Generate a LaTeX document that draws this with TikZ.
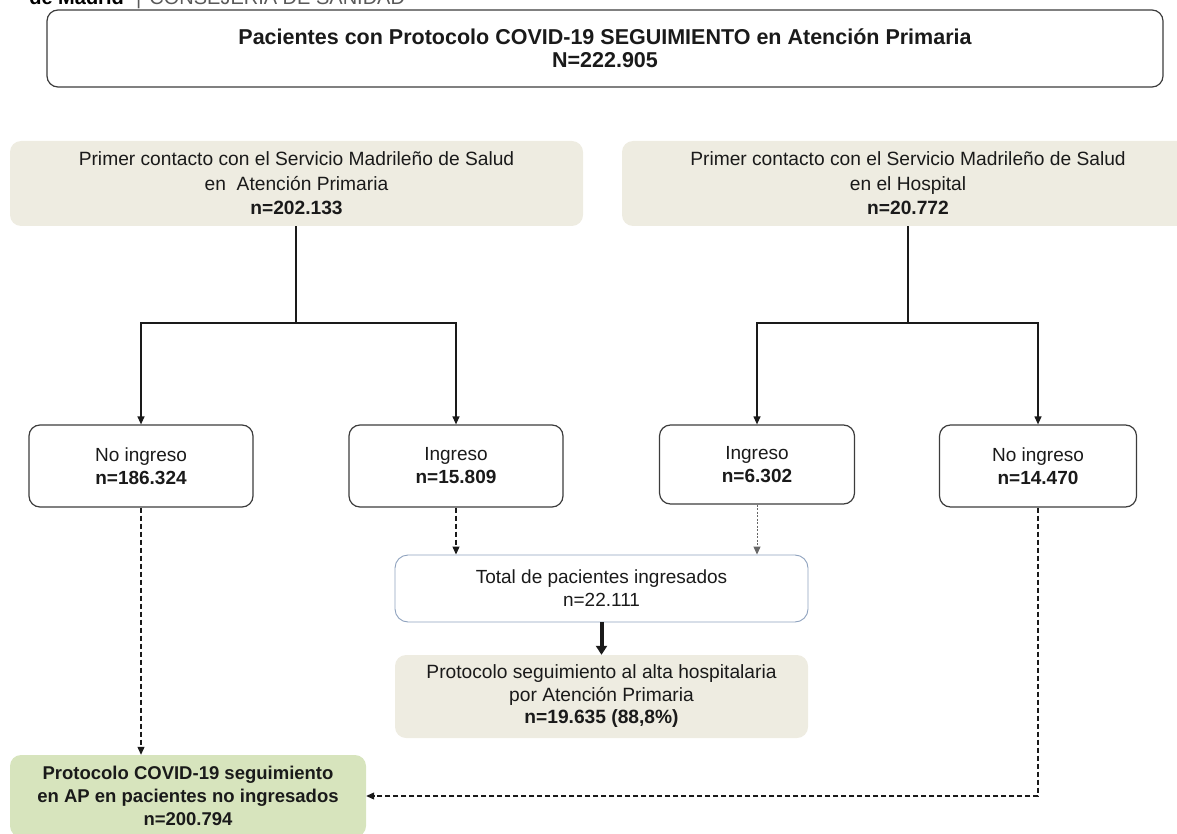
\documentclass[tikz,border=0pt]{standalone}
\usepackage{fontspec}
\setmainfont{Liberation Sans}
\usetikzlibrary{arrows.meta}
\definecolor{beige}{HTML}{EEECE1}
\definecolor{greenbox}{HTML}{D7E4BD}
\definecolor{bluegray}{HTML}{8EA2BE}
\definecolor{ink}{HTML}{1A1A1A}
\tikzset{
  txt/.style={font=\fontsize{19}{23}\selectfont, align=center, text=ink, inner sep=0pt},
  whitebox/.style={txt, draw=ink!85, line width=1.2pt, rounded corners=11pt, fill=white},
  beigebox/.style={txt, fill=beige, rounded corners=11pt, font=\fontsize{19.2}{24.5}\selectfont},
  bluebox/.style={txt, draw=bluegray, line width=0.9pt, rounded corners=13pt, fill=white},
  greenb/.style={txt, fill=greenbox, rounded corners=11pt, font=\bfseries\fontsize{18.5}{23}\selectfont},
  conn/.style={line width=1.2pt, draw=ink},
  tip/.style={-{Triangle[length=8pt,width=7pt]}},
  dashline/.style={line width=1.1pt, draw=ink, dash pattern=on 5pt off 3pt},
  dotline/.style={line width=1pt, draw=gray, dash pattern=on 2pt off 1.5pt},
  hdrtext/.style={inner sep=0pt, font=\fontsize{20}{21}\selectfont},
}
\begin{document}
\begin{tikzpicture}[x=1pt,y=-1pt]
\useasboundingbox (0,0) rectangle (1177,834);
\clip (0,0) rectangle (1177,834);

% header (cut at top)
\node[hdrtext, anchor=base east, font=\bfseries\fontsize{20}{21}\selectfont] (hdrA) at (124,5) {de Madrid};
\node[hdrtext, anchor=base west, text=black!65] (hdrB) at (136,5) {|\hspace{8pt}CONSEJERÍA DE SANIDAD};

\node[whitebox, minimum width=1116pt, minimum height=77pt, font=\bfseries\fontsize{21.5}{23}\selectfont] (top) at (605,48.5)
  {Pacientes con Protocolo COVID-19 SEGUIMIENTO en Atención Primaria\\ N=222.905};

\node[beigebox, minimum width=573pt, minimum height=85pt] (lb) at (296.5,183.5)
  {Primer contacto con el Servicio Madrileño de Salud\\ en\ \ Atención Primaria\\ \textbf{n=202.133}};
\node[beigebox, minimum width=572pt, minimum height=85pt] (rb) at (908,183.5)
  {Primer contacto con el Servicio Madrileño de Salud\\ en el Hospital\\ \textbf{n=20.772}};

\node[whitebox, minimum width=224pt, minimum height=82pt] (noL) at (141,466)
  {No ingreso\\ \textbf{n=186.324}};
\node[whitebox, minimum width=214pt, minimum height=82pt] (ingL) at (456,466)
  {Ingreso\\ \textbf{n=15.809}};
\node[whitebox, minimum width=195pt, minimum height=79pt] (ingR) at (757,464.5)
  {Ingreso\\ \textbf{n=6.302}};
\node[whitebox, minimum width=197pt, minimum height=82pt] (noR) at (1038,466)
  {No ingreso\\ \textbf{n=14.470}};

\node[bluebox, minimum width=413pt, minimum height=67pt] (tot) at (601.5,588.5)
  {Total de pacientes ingresados\\ n=22.111};
\node[beigebox, minimum width=413pt, minimum height=83pt, font=\fontsize{19.2}{22.5}\selectfont] (pro) at (601.5,696.5)
  {Protocolo seguimiento al alta hospitalaria\\ por Atención Primaria\\ \textbf{n=19.635 (88,8\%)}};

\node[greenb, minimum width=356pt, minimum height=82pt] (grn) at (188,796)
  {Protocolo COVID-19 seguimiento\\ en AP en pacientes no ingresados\\ n=200.794};

% tree connectors
\coordinate (jl) at (296,323);
\coordinate (jr) at (908,323);
\draw[conn] (lb.south -| jl) -- (jl);
\draw[conn,tip] (jl) -| (noL.north);
\draw[conn,tip] (jl) -| (ingL.north);
\draw[conn] (rb.south -| jr) -- (jr);
\draw[conn,tip] (jr) -| (ingR.north);
\draw[conn,tip] (jr) -| (noR.north);

% dashed connectors
\draw[dashline,tip] (noL.south) -- (noL.south |- grn.north);
\draw[dashline,tip] (ingL.south) -- (ingL.south |- tot.north);
\draw[dotline,tip,draw=gray!80!black] (ingR.south) -- (ingR.south |- tot.north);
\draw[dashline,tip] (noR.south) |- (grn.east);

% thick arrow
\draw[line width=4pt, draw=ink, -{Triangle[length=9pt,width=11pt]}] (tot.south) -- (pro.north);
\end{tikzpicture}
\end{document}
